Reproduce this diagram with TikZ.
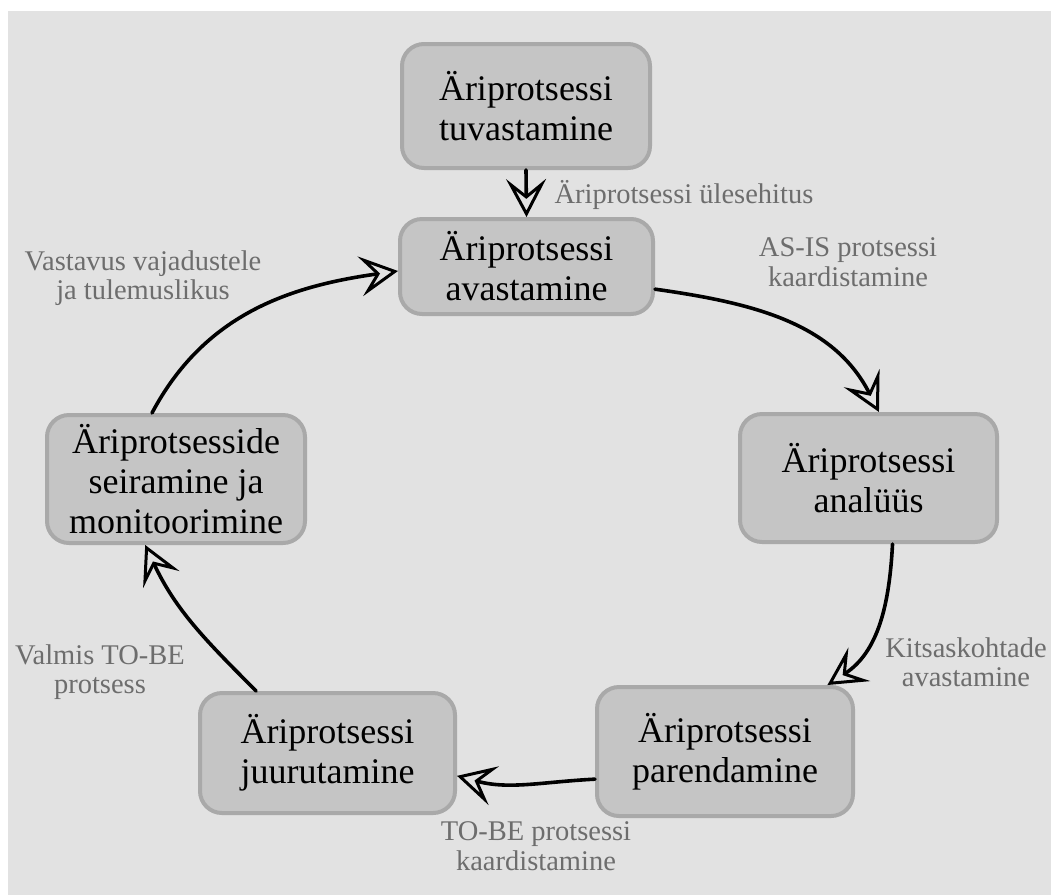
\documentclass[tikz,border=0pt]{standalone}
\usepackage{fontspec}
\setmainfont{Liberation Serif}
\usetikzlibrary{arrows.meta}
\definecolor{bggray}{HTML}{E2E2E2}
\definecolor{boxfill}{HTML}{C5C5C5}
\definecolor{boxline}{HTML}{A9A9A9}
\definecolor{labelgray}{HTML}{6D6D6D}
\begin{document}
\begin{tikzpicture}[x=1pt,y=1pt,
  stage/.style={draw=boxline, fill=boxfill, line width=4pt, rounded corners=22pt,
    minimum width=256pt, minimum height=127pt, align=center, inner sep=0pt,
    font=\fontsize{36}{40}\selectfont},
  note/.style={text=labelgray, align=center, font=\fontsize{28.5}{29.5}\selectfont},
  flow/.style={line width=3.6pt, line cap=round,
    -{Stealth[length=38pt,width=40pt,inset=16pt,fill=bggray,line width=3pt]}}
]
% page and background
\fill[white] (0,0) rectangle (1051,-895);
\fill[bggray] (8,-11) rectangle (1051,-895);
\useasboundingbox (0,0) rectangle (1051,-895);

% process stages
\node[stage, minimum width=248pt, minimum height=124pt] (tuv) at (526,-106) {Äriprotsessi\\tuvastamine};
\node[stage, minimum width=253pt, minimum height=95pt] (avas) at (526.5,-266.5) {Äriprotsessi\\avastamine};
\node[stage, minimum width=257pt, minimum height=128pt] (anal) at (868.5,-478) {Äriprotsessi\\analüüs};
\node[stage, minimum width=256pt, minimum height=129pt] (par) at (725,-751.5) {Äriprotsessi\\parendamine};
\node[stage, minimum width=255pt, minimum height=120pt] (juu) at (327.5,-753) {Äriprotsessi\\juurutamine};
\node[stage, minimum width=258pt, minimum height=128pt] (sei) at (176,-479) {Äriprotsesside\\seiramine ja\\monitoorimine};

% transitions
\draw[flow] (tuv.south) -- (avas.north);
\draw[flow] (avas.-10) to[out=-8, in=117] (anal.81);
\draw[flow] (anal.-70) to[out=-93, in=33] (par.33);
\draw[flow] (par.-168) to[out=183, in=-15] (juu.-10);
\draw[flow] (juu.139) to[out=135, in=-65] (sei.-115);
\draw[flow] (sei.110) to[out=62, in=188] (avas.182);

% transition labels
\node[note, anchor=west] (l1) at (551,-195) {Äriprotsessi ülesehitus};
\node[note] (l2) at (848,-262) {AS-IS protsessi\\kaardistamine};
\node[note] (l3) at (966,-662) {Kitsaskohtade\\avastamine};
\node[note] (l4) at (536,-846) {TO-BE protsessi\\kaardistamine};
\node[note] (l5) at (100,-672) {Valmis TO-BE\\protsess};
\node[note] (l6) at (143,-278) {Vastavus vajadustele\\ja tulemuslikus};
\end{tikzpicture}
\end{document}
